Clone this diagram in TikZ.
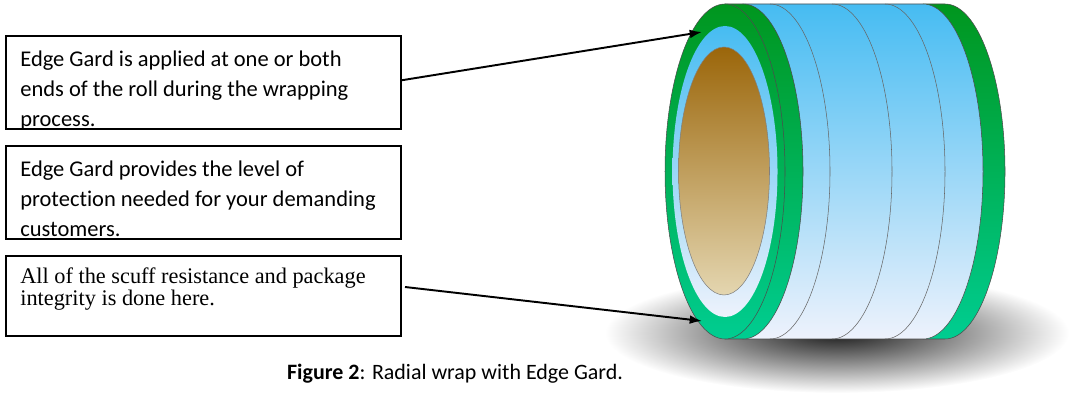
\documentclass[tikz,border=0pt]{standalone}
\usepackage{fontspec}
\setmainfont{Carlito}[Ligatures={TeX,NoCommon}]
\newfontfamily\timesf{Liberation Serif}
\usetikzlibrary{arrows.meta}
\begin{document}
\begin{tikzpicture}[x=0.02cm,y=0.02cm,
  box/.style={draw=black,line width=0.9pt,minimum width=395*0.02cm,inner sep=0},
  txt/.style={anchor=north west,align=left,inner sep=0,font=\fontsize{12.8}{17}\selectfont},
  arr/.style={line width=1.1pt,-{Latex[length=7pt,width=5pt]}},
  gr/.style={top color={rgb,255:red,0;green,150;blue,30},bottom color={rgb,255:red,0;green,205;blue,145}},
  bl/.style={top color={rgb,255:red,70;green,188;blue,242},bottom color={rgb,255:red,238;green,242;blue,252}},
  edge/.style={draw=black!70,line width=0.3pt}]
\useasboundingbox (0,0) rectangle (1074,401);
% shadow
\shade[inner color=black!90,outer color=white] (837,68) ellipse[x radius=232,y radius=60];
\def\seg#1#2{(#1,397) -- (#2,397) arc[start angle=90,end angle=-90,x radius=60,y radius=167.5] -- (#1,62) -- cycle}
\path[gr,edge] \seg{923}{945};
\path[bl,edge] \seg{743}{923};
\foreach \c in {770,832,885}
  \draw[black!60,line width=0.3pt] (\c,397) arc[start angle=90,end angle=-90,x radius=60,y radius=167.5];
\path[gr,edge] \seg{725}{743};
% front face
\path[gr,edge] (725,229.5) ellipse[x radius=60,y radius=167.5];
\path[bl] (725,229.5) ellipse[x radius=52.5,y radius=145.5];
\path[top color={rgb,255:red,155;green,102;blue,10},bottom color={rgb,255:red,228;green,214;blue,176},draw=black!50,line width=0.3pt] (724,230) ellipse[x radius=45.5,y radius=124];
% boxes
\begin{scope}\clip (5,273) rectangle (400,366);
\node[txt] at (20,350) {Edge Gard is applied at one or both\\ends of the roll during the wrapping\\process.};\end{scope}
\node[box,minimum height=93*0.02cm,anchor=north west] (b1) at (5,366) {};
\begin{scope}\clip (5,163) rectangle (400,256);
\node[txt] at (20,240) {Edge Gard provides the level of\\protection needed for your demanding\\customers.};\end{scope}
\node[box,minimum height=93*0.02cm,anchor=north west] (b2) at (5,256) {};
\node[txt,font=\timesf\fontsize{12.7}{13}\selectfont] at (20,134) {All of the scuff resistance and package\\integrity is done here.};
\node[box,minimum height=80*0.02cm,anchor=north west] (b3) at (5,146) {};
\coordinate (t1) at (702,369);
\coordinate (t2) at (702,80);
\draw[arr] (b1.east) ++(0,2) -- (t1);
\draw[arr] (405,114) -- (t2);
\node[font=\fontsize{12.5}{14}\selectfont] (cap) at (455,27) {\textbf{Figure 2}: Radial wrap with Edge Gard.};
\end{tikzpicture}
\end{document}
